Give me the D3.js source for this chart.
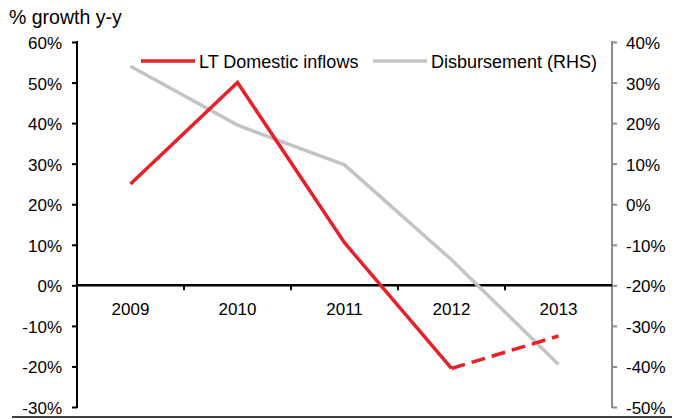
<!DOCTYPE html>
<html lang="en">
<head>
<meta charset="utf-8">
<script src="https://cdn.jsdelivr.net/npm/d3@7"></script>
<style>
  body { margin: 0; background: #fff; }
  text { font-family: "Liberation Sans", Arial, sans-serif; fill: #000; }
</style>
</head>
<body>
<script>
// data
var years = ["2009", "2010", "2011", "2012", "2013"];
var domestic = [25, 50, 10.5, -20.5, -12.5];       // LHS, last segment dashed
var disbursement = [34, 19.5, 9.7, -13.7, -39.5];  // RHS
var leftTicks = [60, 50, 40, 30, 20, 10, 0, -10, -20, -30];
var rightTicks = [40, 30, 20, 10, 0, -10, -20, -30, -40, -50];

var w = 682, h = 419;
var plotL = 77, plotR = 612, plotT = 42, plotB = 407;

var svg = d3.select("body").append("svg")
  .attr("width", w).attr("height", h);

var x = d3.scaleBand().domain(years).range([plotL, plotR]);
var yL = d3.scaleLinear().domain([-30, 60]).range([plotB, plotT]);
var yR = d3.scaleLinear().domain([-50, 40]).range([plotB, plotT]);

// title
svg.append("text").attr("x", 9).attr("y", 24)
  .style("font-size", "19.5px").text("% growth y-y");

// left axis
var gl = svg.append("g").attr("transform", "translate(" + plotL + ",0)")
  .call(d3.axisLeft(yL).tickValues(leftTicks).tickSize(5).tickPadding(10)
    .tickFormat(function(d) { return d + "%"; }));
gl.select(".domain").attr("stroke", "#000").attr("stroke-width", 2).attr("d", "M0," + (plotT - 1) + "V" + (plotB + 1));
gl.selectAll(".tick line").attr("stroke", "#000").attr("stroke-width", 2);
gl.selectAll(".tick text").style("font-size", "17px").attr("font-family", null).attr("dy", "0.38em");

// right axis
var gr = svg.append("g").attr("transform", "translate(" + plotR + ",0)")
  .call(d3.axisRight(yR).tickValues(rightTicks).tickSize(5).tickPadding(9)
    .tickFormat(function(d) { return d + "%"; }));
gr.select(".domain").attr("stroke", "#8c8c8c").attr("stroke-width", 2).attr("d", "M0," + (plotT - 1) + "V" + (plotB + 1));
gr.selectAll(".tick line").attr("stroke", "#8c8c8c").attr("stroke-width", 2);
gr.selectAll(".tick text").style("font-size", "17px").attr("font-family", null).attr("dy", "0.38em");

// zero line with category ticks
var gx = svg.append("g").attr("transform", "translate(0," + yL(0) + ")");
gx.append("line").attr("x1", plotL).attr("x2", plotR)
  .attr("stroke", "#000").attr("stroke-width", 2.5);
gx.selectAll(".cat-tick").data(years.slice(1)).enter().append("line")
  .attr("x1", function(d) { return x(d); }).attr("x2", function(d) { return x(d); })
  .attr("y1", 0).attr("y2", 5).attr("stroke", "#000").attr("stroke-width", 2);
gx.selectAll(".cat-label").data(years).enter().append("text")
  .attr("x", function(d) { return x(d) + x.bandwidth() / 2; })
  .attr("y", 30).attr("text-anchor", "middle")
  .style("font-size", "17px").text(function(d) { return d; });

// bottom rule
svg.append("line").attr("x1", 12).attr("x2", 672).attr("y1", 417).attr("y2", 417)
  .attr("stroke", "#000").attr("stroke-width", 1.5);

var cx = function(i) { return x(years[i]) + x.bandwidth() / 2; };

// disbursement (RHS)
var lineR = d3.line().x(function(d, i) { return cx(i); }).y(function(d) { return yR(d); });
svg.append("path").datum(disbursement).attr("d", lineR)
  .attr("fill", "none").attr("stroke", "#c4c4c4").attr("stroke-width", 3.5);

// domestic inflows (LHS)
var lineL = d3.line().x(function(d) { return cx(d.i); }).y(function(d) { return yL(d.v); });
var pts = domestic.map(function(v, i) { return { v: v, i: i }; });
svg.append("path").datum(pts.slice(0, 4)).attr("d", lineL)
  .attr("fill", "none").attr("stroke", "#e8202a").attr("stroke-width", 3.5)
  .attr("stroke-linejoin", "miter");
svg.append("path").datum(pts.slice(3)).attr("d", lineL)
  .attr("fill", "none").attr("stroke", "#e8202a").attr("stroke-width", 3.5)
  .attr("stroke-dasharray", "14,7");

// legend
var legend = [
  { name: "LT Domestic inflows", color: "#e8202a", x: 141 },
  { name: "Disbursement (RHS)", color: "#c4c4c4", x: 373 }
];
var lg = svg.selectAll(".legend").data(legend).enter().append("g")
  .attr("transform", function(d) { return "translate(" + d.x + ",61)"; });
lg.append("line").attr("x1", 0).attr("x2", 54)
  .attr("stroke", function(d) { return d.color; }).attr("stroke-width", 3.5);
lg.append("text").attr("x", 58).attr("y", 6.5)
  .style("font-size", "18px").text(function(d) { return d.name; });
</script>
</body>
</html>
